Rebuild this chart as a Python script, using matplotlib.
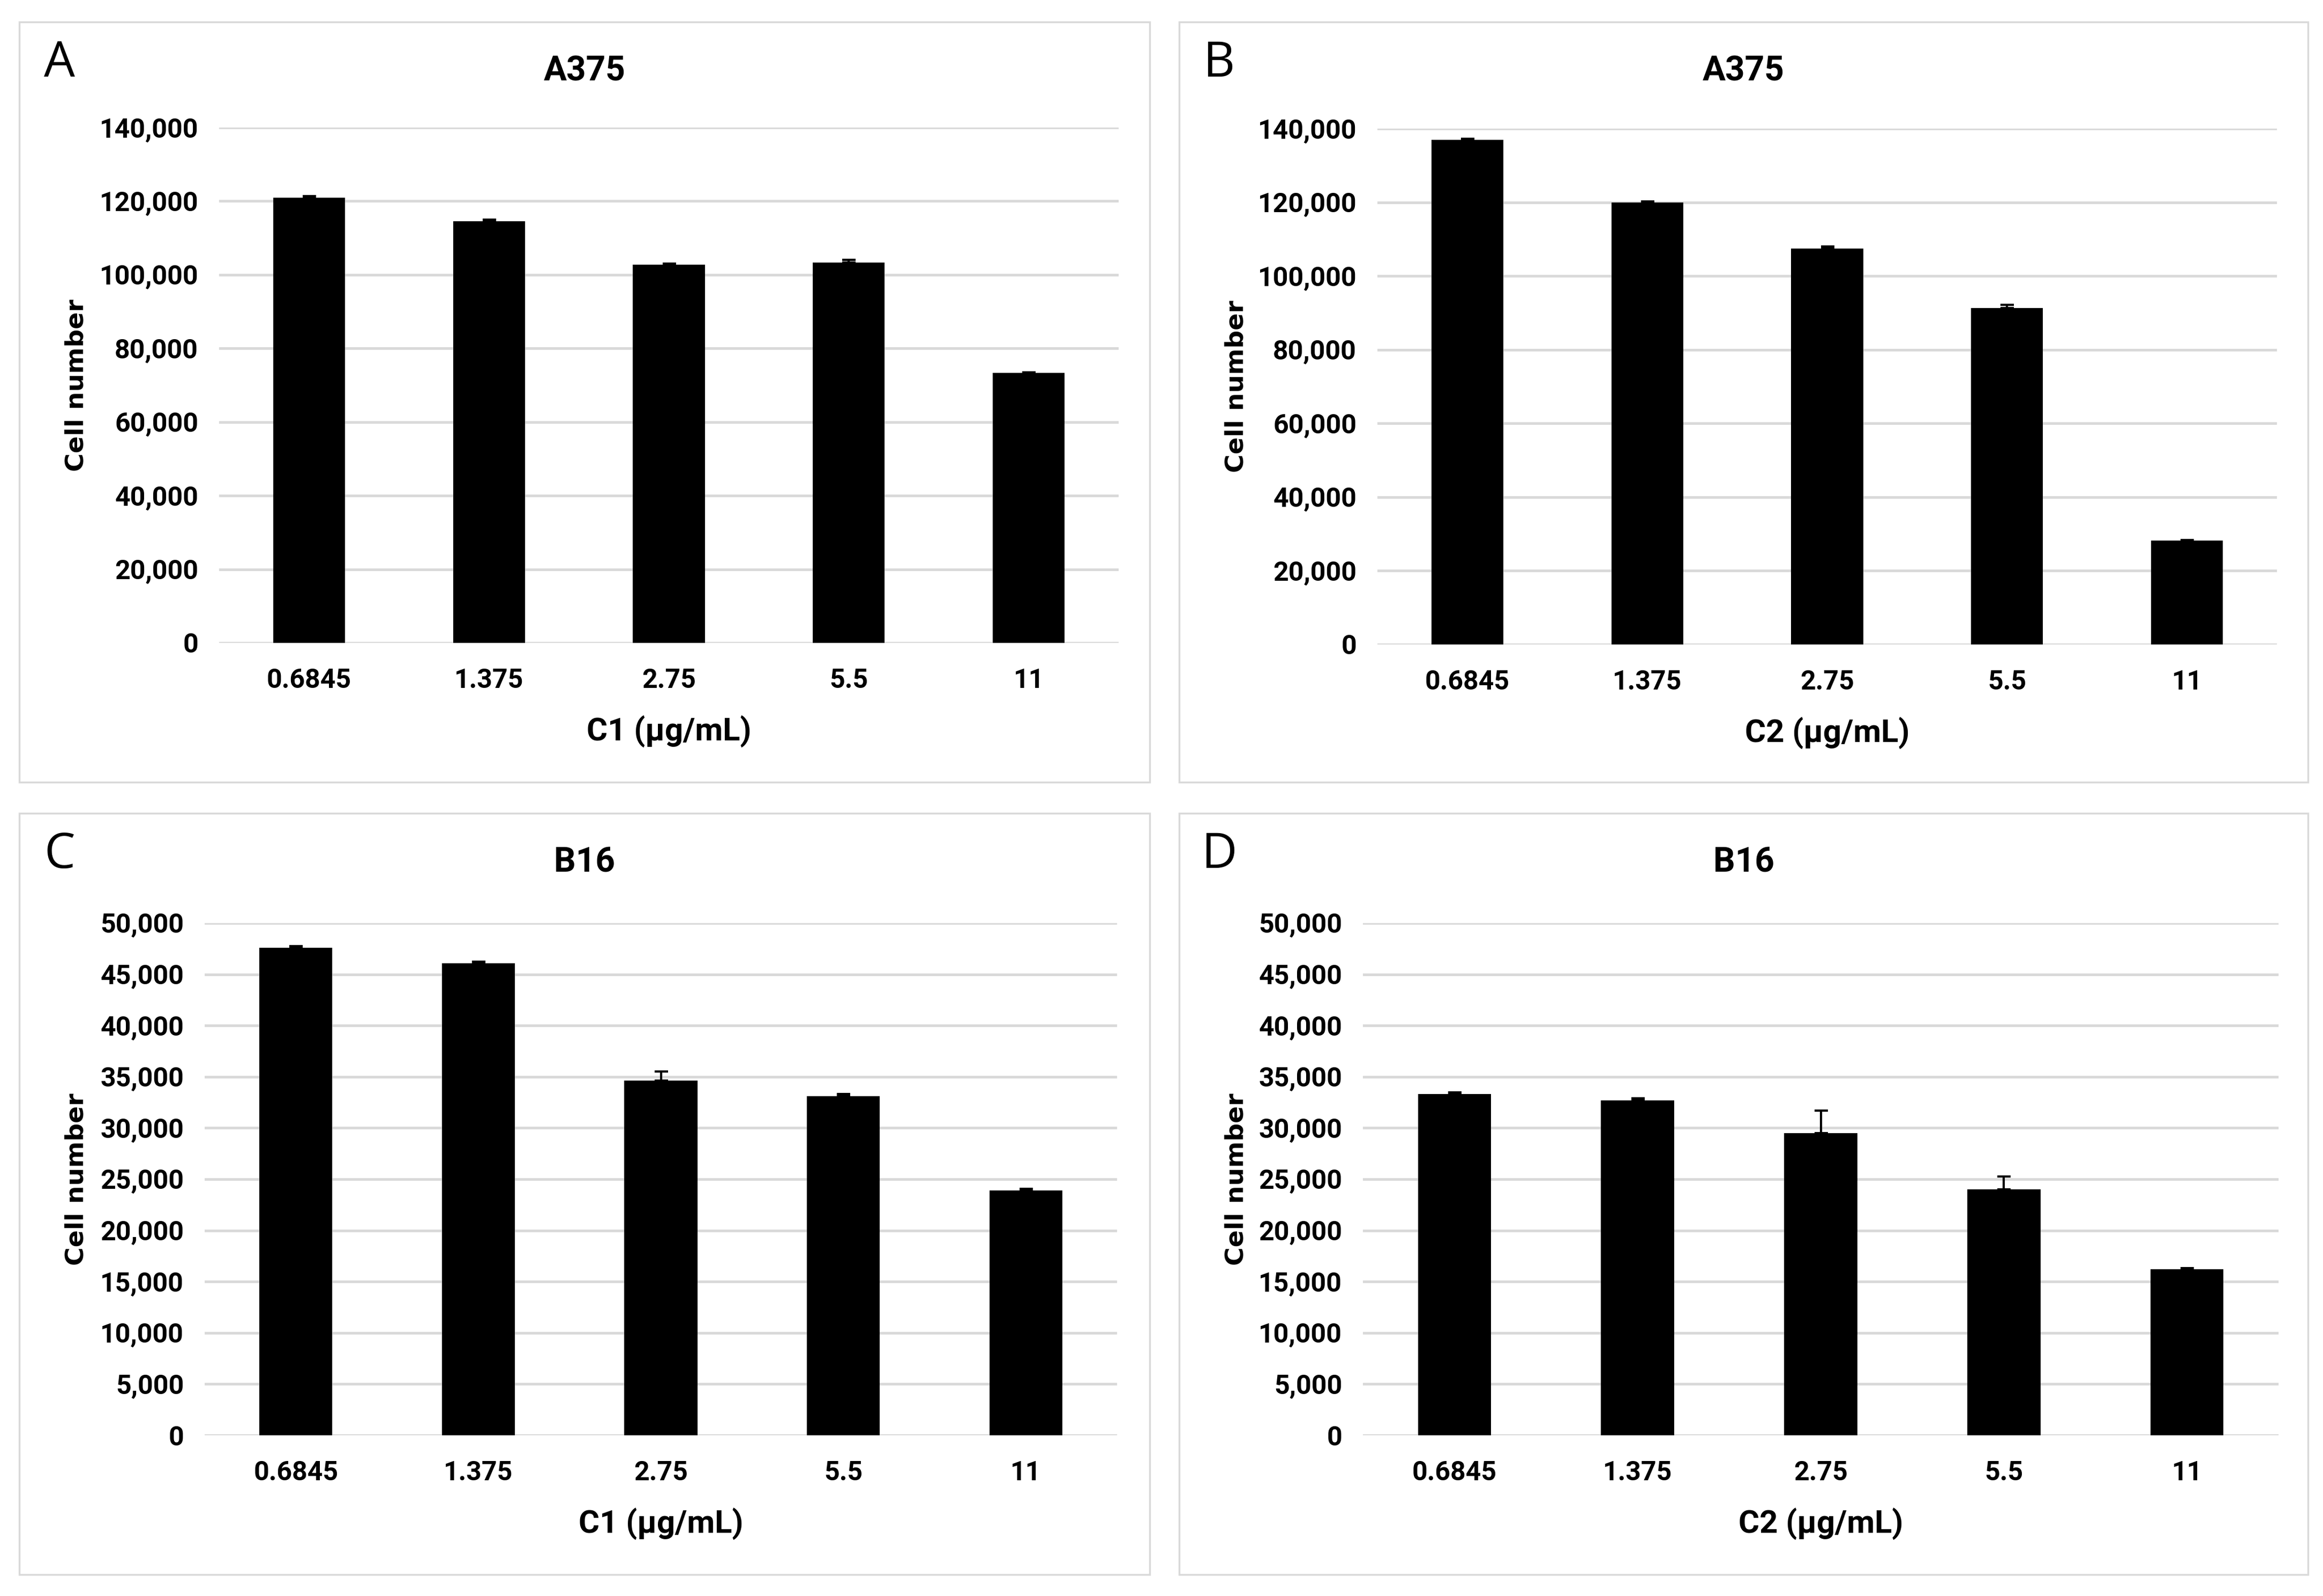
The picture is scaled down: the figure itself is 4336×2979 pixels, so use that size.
import matplotlib
matplotlib.use('Agg')
from matplotlib import pyplot as plt
from matplotlib.patches import Rectangle
from matplotlib.ticker import FuncFormatter

concentrations = ['0.6845', '1.375', '2.75', '5.5', '11']

a375_c1 = [121000, 114500, 102800, 103300, 73300]
a375_c1_err = [400, 400, 300, 800, 200]
a375_c2 = [137000, 120000, 107500, 91300, 28200]
a375_c2_err = [300, 200, 500, 900, 200]
b16_c1 = [47600, 46100, 34600, 33100, 23900]
b16_c1_err = [150, 120, 900, 200, 150]
b16_c2 = [33300, 32700, 29500, 24000, 16200]
b16_c2_err = [150, 200, 2200, 1250, 100]

panels = [
    # letter, title, xlabel, values, errors, ymax, ystep
    ('A', 'A375', 'C1 (µg/mL)', a375_c1, a375_c1_err, 140000, 20000),
    ('B', 'A375', 'C2 (µg/mL)', a375_c2, a375_c2_err, 140000, 20000),
    ('C', 'B16', 'C1 (µg/mL)', b16_c1, b16_c1_err, 50000, 5000),
    ('D', 'B16', 'C2 (µg/mL)', b16_c2, b16_c2_err, 50000, 5000),
]

W, H = 4336, 2979
dpi = 100

# pixel boxes (left, top, right, bottom) measured on the reference
frames = [(36, 41, 2146, 1460), (2201, 41, 4308, 1460),
          (36, 1518, 2146, 2939), (2201, 1518, 4308, 2939)]
axes_boxes = [(409, 238, 2088, 1200), (2571, 240, 4250, 1203),
              (382, 1723, 2085, 2679), (2544, 1723, 4253, 2679)]

label_font = ['Roboto', 'DejaVu Sans']
grid_color = '#d9d9d9'

fig = plt.figure(figsize=(W / dpi, H / dpi), dpi=dpi)
fig.patch.set_facecolor('white')

for i, (letter, title, xlabel, values, errors, ymax, ystep) in enumerate(panels):
    fl, ft, fr, fb = frames[i]
    fig.add_artist(Rectangle((fl / W, 1 - fb / H), (fr - fl) / W, (fb - ft) / H,
                             transform=fig.transFigure, fill=False,
                             edgecolor=grid_color, linewidth=2.5))

    al, at, ar, ab = axes_boxes[i]
    ax = fig.add_axes([al / W, 1 - ab / H, (ar - al) / W, (ab - at) / H])

    x = range(len(concentrations))
    ax.bar(x, values, width=0.4, color='black', zorder=3)
    ax.errorbar(x, values, yerr=[[0] * len(errors), errors], fmt='none',
                ecolor='black', elinewidth=3, capsize=9, capthick=3, zorder=4)

    ax.set_xlim(-0.5, len(concentrations) - 0.5)
    ax.set_ylim(0, ymax)
    ax.set_yticks(range(0, ymax + 1, ystep))
    ax.yaxis.set_major_formatter(FuncFormatter(lambda v, p: f'{int(v):,}'))
    ax.set_xticks(list(x))
    ax.set_xticklabels(concentrations)

    ax.grid(axis='y', color=grid_color, linewidth=3.5, zorder=0)
    ax.set_axisbelow(True)
    for spine in ax.spines.values():
        spine.set_visible(False)
    ax.tick_params(axis='both', length=0)
    ax.tick_params(axis='y', pad=28)
    ax.tick_params(axis='x', pad=34)
    for lab in ax.get_xticklabels() + ax.get_yticklabels():
        lab.set_family(label_font)
        lab.set_fontweight('bold')
        lab.set_fontsize(36)

    ax.set_xlabel(xlabel, family=label_font, fontweight='bold', fontsize=43, labelpad=30)
    ax.set_ylabel('Cell number', family=['DejaVu Sans'], fontweight='bold',
                  fontsize=34, va='center')
    ax.yaxis.set_label_coords((fl + 107) / W, 1 - (at + ab) / 2 / H,
                              transform=fig.transFigure)

    cx = (fl + fr) / 2
    fig.text(cx / W, 1 - (ft + 92) / H, title, family=label_font, fontweight='bold',
             fontsize=46, ha='center', va='center')
    fig.text((fl + 75) / W, 1 - (ft + 78) / H, letter, family=['Open Sans', 'DejaVu Sans'],
             fontsize=66, ha='center', va='center')

plt.savefig('out.png', dpi=dpi, facecolor='white')
plt.close()
